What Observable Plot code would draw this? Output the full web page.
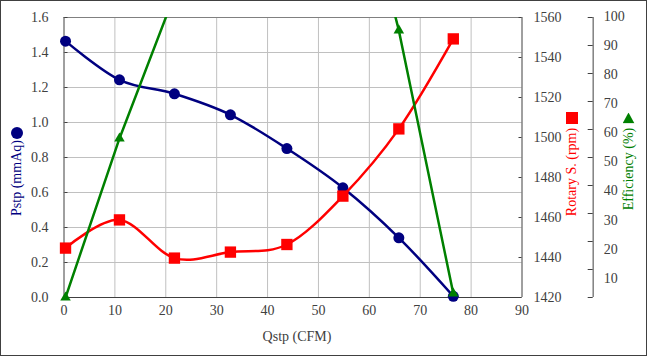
<!DOCTYPE html>
<html>
<head>
<meta charset="utf-8">
<script src="https://cdn.jsdelivr.net/npm/d3@7"></script>
<script src="https://cdn.jsdelivr.net/npm/@observablehq/plot@0.6"></script>
<style>
html, body { margin: 0; padding: 0; background: #fff; }
#chart { position: relative; width: 647px; height: 356px; overflow: hidden; font-family: "Liberation Serif", "Times New Roman", serif; }
#chart svg { position: absolute; left: 0; top: 0; background: transparent !important; overflow: visible; }
#chart svg, #chart svg g, #chart svg text { font-family: "Liberation Serif", "Times New Roman", serif !important; font-size: 14px !important; }
.frame { position: absolute; left: 0; top: 0; width: 647px; height: 356px; box-sizing: border-box; border: 1px solid #404040; }
.t { position: absolute; font-size: 14px; line-height: 1; white-space: nowrap; transform: translate(-50%, -50%); }
.r { transform: translate(-50%, -50%) rotate(-90deg); }
.mk { position: absolute; transform: translate(-50%, -50%); }
</style>
</head>
<body>
<div id="chart"></div>
<script>
// ---- data ----
const qstp       = [0.3, 10.9, 21.7, 32.7, 43.8, 54.8, 65.8, 76.5];
const pstp       = [1.465, 1.244, 1.164, 1.044, 0.851, 0.627, 0.341, 0.007];
const rotary     = [1444.7, 1458.8, 1439.7, 1442.7, 1446.5, 1470.7, 1504.3, 1549.3];
const efficiency = [0, 56.8, 108, 145, 165, 174, 95.4, 1.4];

const xTicks   = [0, 10, 20, 30, 40, 50, 60, 70, 80, 90];
const xGrid    = [10, 20, 30, 40, 50, 60, 70, 80];
const pTicks   = [0, 0.2, 0.4, 0.6, 0.8, 1.0, 1.2, 1.4, 1.6];
const pGrid    = [0.2, 0.4, 0.6, 0.8, 1.0, 1.2, 1.4];
const rTicks   = [1420, 1440, 1460, 1480, 1500, 1520, 1540, 1560];
const eTicks   = [0, 10, 20, 30, 40, 50, 60, 70, 80, 90, 100];
const eLabels  = [10, 20, 30, 40, 50, 60, 70, 80, 90, 100];

const data = qstp.map((q, i) => ({q, p: pstp[i], r: rotary[i], e: efficiency[i]}));

// ---- layout ----
const W = 647, H = 356, mt = 17, mb = 59, ml = 63.5, mr = 125.5;
const innerW = W - ml - mr;
const effDx = 71.2;
const svgStyle = "background:transparent;font-family:'Liberation Serif','Times New Roman',serif;font-size:14px;color:#404040;overflow:visible;";
const base = {width: W, height: H, marginTop: mt, marginBottom: mb, marginLeft: ml, marginRight: mr, style: svgStyle};

const chart = document.getElementById("chart");

// Plot 1: Pstp (left axis), grid, x axis
const p1 = Plot.plot({
  ...base,
  x: {domain: [0, 90], axis: null},
  y: {domain: [0, 1.6], axis: null},
  marks: [
    Plot.gridX({ticks: xGrid, stroke: "#c0c0c0", strokeOpacity: 1}),
    Plot.gridY({ticks: pGrid, stroke: "#c0c0c0", strokeOpacity: 1}),
    Plot.ruleY([1.6], {stroke: "#808080"}),
    Plot.ruleX([0], {stroke: "#404040"}),
    Plot.ruleX([90], {stroke: "#404040"}),
    Plot.ruleY([0], {stroke: "#404040"}),
    Plot.axisX({ticks: xTicks, tickSize: 0, tickPadding: 8, tickFormat: d => String(d), label: null}),
    Plot.axisY({ticks: pTicks, tickSize: 0, tickPadding: 15.5, tickFormat: d => d.toFixed(1), label: null}),
    Plot.axisY({anchor: "right", dx: -innerW, ticks: pTicks, tickSize: 3, tickFormat: () => "", label: null, stroke: "#404040"}),
    Plot.line(data, {x: "q", y: "p", curve: "cardinal", tension: 0, stroke: "#000080", strokeWidth: 2.5}),
    Plot.dot(data, {x: "q", y: "p", r: 5.5, fill: "#000080", stroke: "none"})
  ]
});
chart.appendChild(p1);

// Plot 2: Rotary speed (right axis)
const p2 = Plot.plot({
  ...base,
  x: {domain: [0, 90], axis: null},
  y: {domain: [1420, 1560], axis: null},
  marks: [
    Plot.axisY({anchor: "left", dx: innerW, ticks: rTicks, tickSize: 3, tickFormat: () => "", label: null, stroke: "#404040"}),
    Plot.axisY({anchor: "right", ticks: rTicks, tickSize: 0, tickPadding: 11.5, tickFormat: d => String(d), label: null}),
    Plot.line(data, {x: "q", y: "r", curve: "cardinal", tension: 0, stroke: "#ff0000", strokeWidth: 2.5}),
    Plot.dot(data, {x: "q", y: "r", symbol: "square", r: 6.4, fill: "#ff0000", stroke: "none"})
  ]
});
chart.appendChild(p2);

// Plot 3: Efficiency line + outer axis line/ticks
const p3 = Plot.plot({
  ...base,
  x: {domain: [0, 90], axis: null},
  y: {domain: [0, 100], axis: null},
  marks: [
    Plot.ruleX([90], {dx: effDx, stroke: "#808080", strokeWidth: 1.5}),
    Plot.axisY({anchor: "left", dx: innerW + effDx, ticks: eTicks, tickSize: 5, tickFormat: () => "", label: null, stroke: "#404040"}),
    Plot.line(data, {x: "q", y: "e", stroke: "#008000", strokeWidth: 2.5, clip: true}),
    Plot.dot(data.filter(d => d.e <= 100), {x: "q", y: "e", symbol: "triangle", r: 3.9, fill: "#008000", stroke: "none"})
  ]
});
chart.appendChild(p3);

// Plot 4: Efficiency tick labels (Excel places them on a slightly stretched spacing)
const p4 = Plot.plot({
  ...base,
  marginTop: 15.7,
  marginBottom: 49,
  x: {domain: [0, 90], axis: null},
  y: {domain: [0, 100], axis: null},
  marks: [
    Plot.axisY({anchor: "right", dx: effDx, ticks: eLabels, tickSize: 0, tickPadding: 10.5, tickFormat: d => String(d), label: null})
  ]
});
chart.appendChild(p4);

// ---- titles (HTML text) ----
function addText(txt, x, y, color, rotate) {
  const d = document.createElement("div");
  d.className = "t" + (rotate ? " r" : "");
  d.textContent = txt;
  d.style.left = x + "px";
  d.style.top = y + "px";
  d.style.color = color;
  chart.appendChild(d);
}
function addMarker(kind, x, y, color) {
  const d = document.createElement("div");
  d.className = "mk";
  d.style.left = x + "px";
  d.style.top = y + "px";
  d.style.background = color;
  if (kind === "circle") { d.style.width = "12px"; d.style.height = "12px"; d.style.borderRadius = "50%"; }
  if (kind === "square") { d.style.width = "12px"; d.style.height = "12px"; }
  if (kind === "triangle") { d.style.width = "12px"; d.style.height = "11px"; d.style.clipPath = "polygon(50% 0, 100% 100%, 0 100%)"; }
  chart.appendChild(d);
}
addText("Qstp (CFM)", 297, 337, "#404040", false);
addText("Pstp (mmAq)", 17, 178, "#000080", true);
addMarker("circle", 17, 132.5, "#000080");
addText("Rotary S. (rpm)", 572, 171.5, "#ff0000", true);
addMarker("square", 572, 118, "#ff0000");
addText("Efficiency (%)", 628.5, 169, "#008000", true);
addMarker("triangle", 628.5, 118, "#008000");

const fr = document.createElement("div");
fr.className = "frame";
chart.appendChild(fr);
</script>
</body>
</html>
